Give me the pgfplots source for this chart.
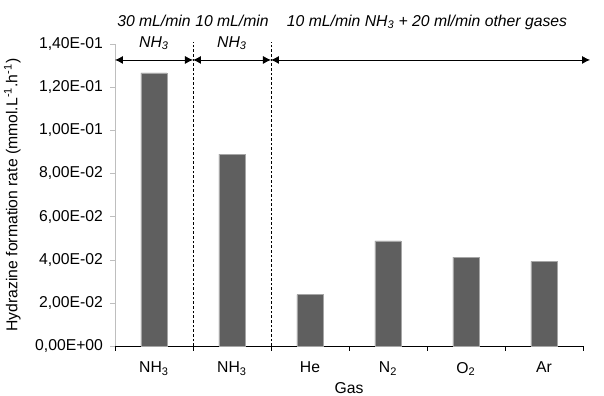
\documentclass[border=0pt]{standalone}
\usepackage{pgfplots}
\pgfplotsset{compat=1.18}
\usepackage{fontspec}
\setmainfont{Liberation Sans}
\usetikzlibrary{arrows.meta}
\definecolor{barfill}{RGB}{95,95,95}
\definecolor{axgray}{RGB}{190,190,190}
\begin{document}
\begin{tikzpicture}[font=\fontsize{11.8}{14}\selectfont]
\begin{axis}[
  at={(0,0)}, anchor=south west,
  scale only axis, width=351pt, height=226.5pt,
  xmin=-0.5, xmax=5.5, ymin=0, ymax=0.14,
  clip=false,
  axis x line*=bottom, axis y line*=left,
  x axis line style={black, -},
  y axis line style={axgray, -},
  xtick={-0.5,0.5,1.5,2.5,3.5,4.5,5.5},
  x tick label as interval,
  xticklabels={NH\textsubscript{3},NH\textsubscript{3},He,N\textsubscript{2},O\textsubscript{2},Ar},
  xticklabel style={yshift=-5pt},
  x tick style={black, line width=0.6pt},
  xtick align=outside,
  ytick={0,0.02,0.04,0.06,0.08,0.1,0.12,0.14},
  yticklabels={{0,00E+00},{2,00E-02},{4,00E-02},{6,00E-02},{8,00E-02},{1,00E-01},{1,20E-01},{1,40E-01}},
  yticklabel style={xshift=-2pt},
  y tick style={axgray},
  ytick align=outside,
  major tick length=3.5pt,
  xlabel={Gas},
  ylabel={Hydrazine formation rate (mmol.L\textsuperscript{-1}.h\textsuperscript{-1})},
  every axis y label/.style={at={([xshift=-77pt]axis description cs:0,0.5)}, rotate=90, anchor=center},
  every axis x label/.style={at={([yshift=-31.5pt]axis description cs:0.5,0)}, anchor=center},
  ybar, bar width=19.5pt,
]
\addplot[fill=barfill, draw=gray!70, line width=0.4pt] coordinates {
  (0,0.1266) (1,0.0890) (2,0.0238) (3,0.0487) (4,0.0412) (5,0.0392)
};
\draw[dash pattern=on 2pt off 1.5pt, line width=0.6pt] (axis cs:0.5,0) -- (axis cs:0.5,0.1408);
\draw[dash pattern=on 2pt off 1.5pt, line width=0.6pt] (axis cs:1.5,0) -- (axis cs:1.5,0.1408);
\draw[{Latex[length=6pt,width=6pt]}-{Latex[length=6pt,width=6pt]}, line width=0.6pt] (axis cs:-0.5,0.1326) -- (axis cs:0.5,0.1326);
\draw[{Latex[length=6pt,width=6pt]}-{Latex[length=6pt,width=6pt]}, line width=0.6pt] (axis cs:0.5,0.1326) -- (axis cs:1.5,0.1326);
\draw[{Latex[length=6pt,width=6pt]}-{Latex[length=6pt,width=6pt]}, line width=0.6pt] (axis cs:1.5,0.1326) -- (axis cs:5.59,0.1326);
\node[align=center, font=\fontsize{11.8}{15.75}\selectfont\itshape] at (axis cs:0,0.1454) {30 mL/min\\NH\textsubscript{3}};
\node[align=center, font=\fontsize{11.8}{15.75}\selectfont\itshape] at (axis cs:1,0.1454) {10 mL/min\\NH\textsubscript{3}};
\node[font=\fontsize{11.8}{14}\selectfont\itshape] at (axis cs:3.5,0.1502) {10 mL/min NH\textsubscript{3} + 20 ml/min other gases};
\end{axis}
\pgfresetboundingbox
\path (-86.25pt,-37.5pt) rectangle (366.75pt,259.5pt);
\end{tikzpicture}
\end{document}
